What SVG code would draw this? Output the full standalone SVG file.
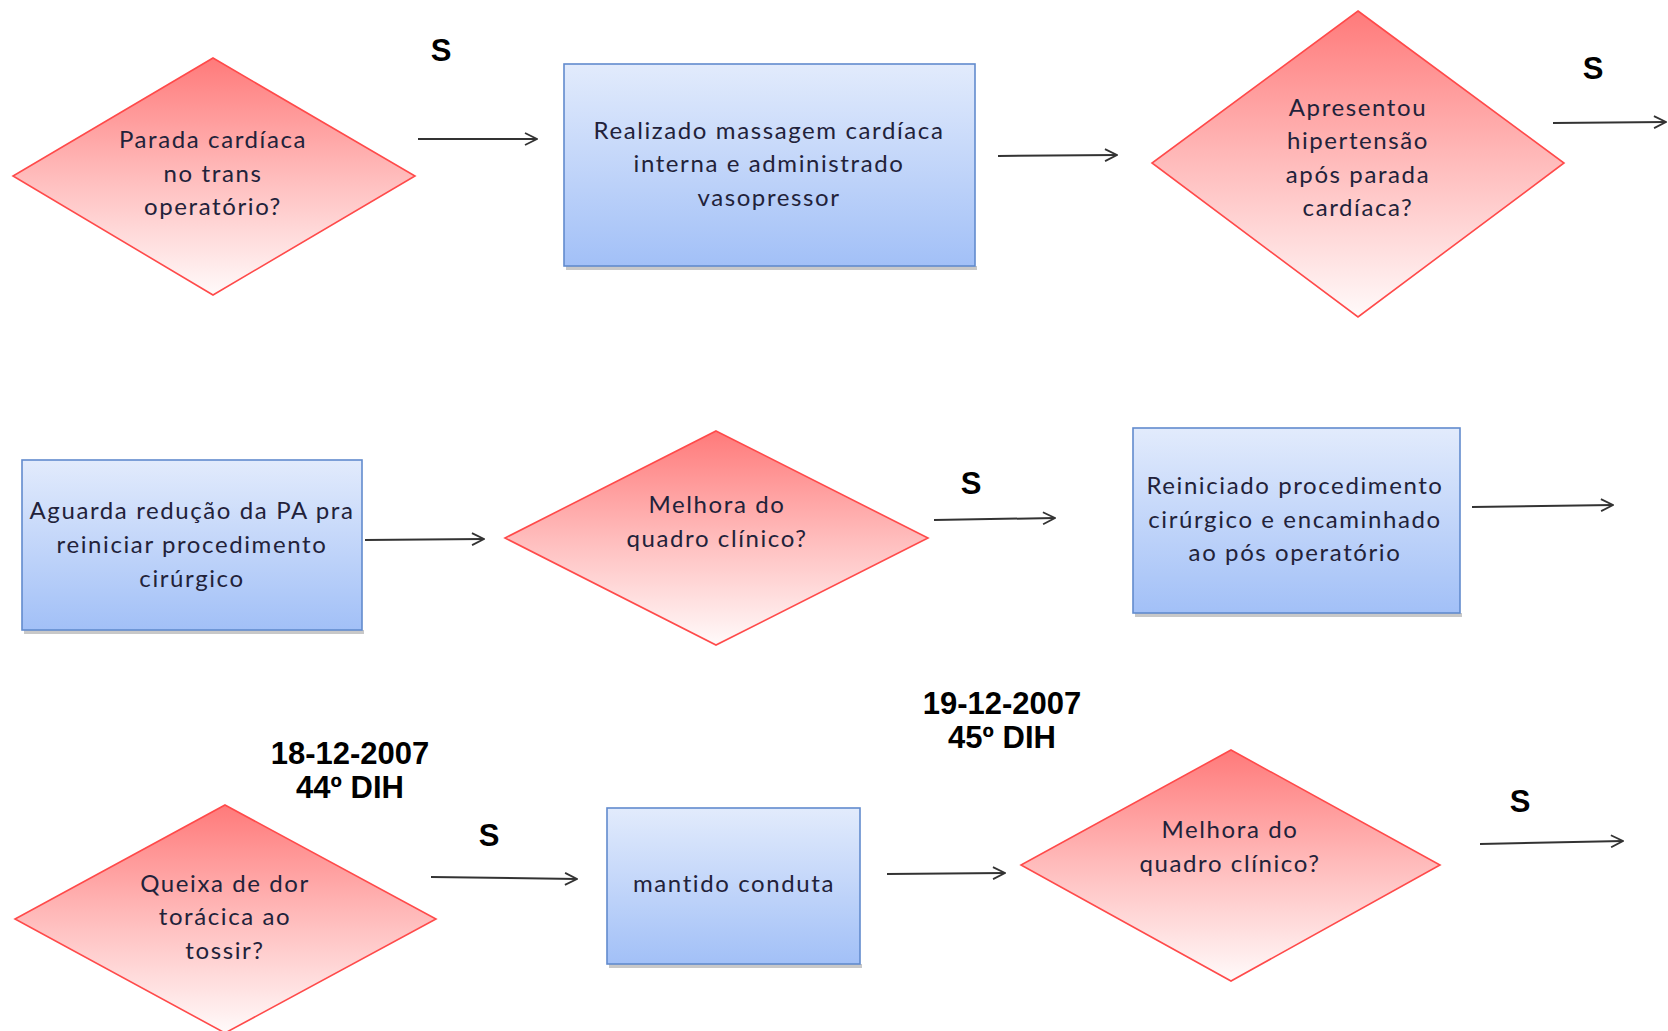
<svg xmlns="http://www.w3.org/2000/svg" width="1668" height="1031" viewBox="0 0 1668 1031">
  <defs>
    <linearGradient id="gDec" x1="0" y1="0" x2="0" y2="1">
      <stop offset="0" stop-color="#ff7a7a"/>
      <stop offset="0.5" stop-color="#ffbcbc"/>
      <stop offset="1" stop-color="#fffafa"/>
    </linearGradient>
    <linearGradient id="gProc" x1="0" y1="0" x2="0" y2="1">
      <stop offset="0" stop-color="#e2ebfc"/>
      <stop offset="1" stop-color="#a2c0f7"/>
    </linearGradient>
    <marker id="open" viewBox="0 0 14 14" refX="13" refY="7" markerWidth="14" markerHeight="14" markerUnits="userSpaceOnUse" orient="auto">
      <path d="M1,1 L13,7 L1,13" fill="none" stroke="#333" stroke-width="1.8" stroke-linejoin="miter"/>
    </marker>
  </defs>
  <style>
    .dec { fill: url(#gDec); stroke: #ff4a4a; stroke-width: 1.6; }
    .proc { fill: url(#gProc); stroke: #628bce; stroke-width: 1.6; }
    .shadow { fill: #9a9a9a; opacity: 0.55; }
    .t { font-family: Lato, "Noto Sans", "Liberation Sans", sans-serif; font-size: 24px; fill: #22223a; text-anchor: middle; letter-spacing: 1.6px; }
    .lbl { font-family: "Liberation Sans", Arial, sans-serif; font-weight: bold; font-size: 31px; fill: #000; text-anchor: middle; }
    .arr { fill: none; stroke: #333; stroke-width: 2; marker-end: url(#open); }
  </style>
  <rect width="1668" height="1031" fill="#fff"/>

  <!-- row 1 -->
  <g id="n1">
    <polygon class="dec" points="213,58 415,176 213,295 13,176"/>
    <text class="t" x="213" y="148">Parada cardíaca</text>
    <text class="t" x="213" y="182">no trans</text>
    <text class="t" x="213" y="215">operatório?</text>
  </g>
  <g id="n2">
    <rect class="shadow" x="566" y="266" width="411" height="4"/>
    <rect class="proc" x="564" y="64" width="411" height="202"/>
    <text class="t" x="769" y="139">Realizado massagem cardíaca</text>
    <text class="t" x="769" y="172">interna e administrado</text>
    <text class="t" x="769" y="206">vasopressor</text>
  </g>
  <g id="n3">
    <polygon class="dec" points="1358,11 1564,163 1358,317 1152,163"/>
    <text class="t" x="1358" y="116">Apresentou</text>
    <text class="t" x="1358" y="149">hipertensão</text>
    <text class="t" x="1358" y="183">após parada</text>
    <text class="t" x="1358" y="216">cardíaca?</text>
  </g>

  <!-- row 2 -->
  <g id="n4">
    <rect class="shadow" x="24" y="630" width="340" height="4"/>
    <rect class="proc" x="22" y="460" width="340" height="170"/>
    <text class="t" x="192" y="519">Aguarda redução da PA pra</text>
    <text class="t" x="192" y="553">reiniciar procedimento</text>
    <text class="t" x="192" y="587">cirúrgico</text>
  </g>
  <g id="n5">
    <polygon class="dec" points="716,431 928,538 716,645 505,538"/>
    <text class="t" x="717" y="513">Melhora do</text>
    <text class="t" x="717" y="547">quadro clínico?</text>
  </g>
  <g id="n6">
    <rect class="shadow" x="1135" y="613" width="327" height="4"/>
    <rect class="proc" x="1133" y="428" width="327" height="185"/>
    <text class="t" x="1295" y="494">Reiniciado procedimento</text>
    <text class="t" x="1295" y="528">cirúrgico  e encaminhado</text>
    <text class="t" x="1295" y="561">ao pós operatório</text>
  </g>

  <!-- row 3 -->
  <g id="n7">
    <polygon class="dec" points="225,805 436,919 225,1033 15,919"/>
    <text class="t" x="225" y="892">Queixa de dor</text>
    <text class="t" x="225" y="925">torácica ao</text>
    <text class="t" x="225" y="959">tossir?</text>
  </g>
  <g id="n8">
    <rect class="shadow" x="609" y="964" width="253" height="4"/>
    <rect class="proc" x="607" y="808" width="253" height="156"/>
    <text class="t" x="734" y="892">mantido conduta</text>
  </g>
  <g id="n9">
    <polygon class="dec" points="1231,750 1440,865 1231,981 1021,865"/>
    <text class="t" x="1230" y="838">Melhora do</text>
    <text class="t" x="1230" y="872">quadro clínico?</text>
  </g>

  <!-- branch and date labels -->
  <g id="labels">
    <text class="lbl" x="441" y="61">S</text>
    <text class="lbl" x="1593" y="79">S</text>
    <text class="lbl" x="971" y="494">S</text>
    <text class="lbl" x="489" y="846">S</text>
    <text class="lbl" x="1520" y="812">S</text>
    <text class="lbl" x="350" y="764">18-12-2007</text>
    <text class="lbl" x="350" y="798">44º DIH</text>
    <text class="lbl" x="1002" y="714">19-12-2007</text>
    <text class="lbl" x="1002" y="748">45º DIH</text>
  </g>

  <!-- connectors -->
  <g id="connectors">
    <line class="arr" x1="418" y1="139" x2="537" y2="139"/>
    <line class="arr" x1="998" y1="156" x2="1117" y2="155"/>
    <line class="arr" x1="1553" y1="123" x2="1666" y2="122"/>
    <line class="arr" x1="365" y1="540" x2="484" y2="539"/>
    <line class="arr" x1="934" y1="520" x2="1055" y2="518"/>
    <line class="arr" x1="1472" y1="507" x2="1613" y2="505"/>
    <line class="arr" x1="431" y1="877" x2="577" y2="879"/>
    <line class="arr" x1="887" y1="874" x2="1005" y2="873"/>
    <line class="arr" x1="1480" y1="844" x2="1623" y2="841"/>
  </g>
</svg>
